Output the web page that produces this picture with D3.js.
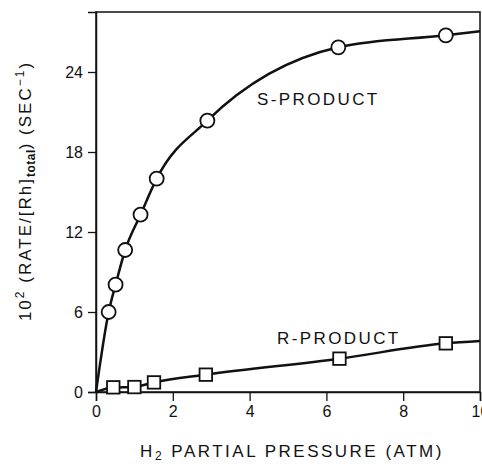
<!DOCTYPE html>
<html>
<head>
    <script src="https://d3js.org/d3.v7.min.js"></script>
    <style>
        body { margin: 0; background: #fff; }
        text { font-family: "Liberation Sans", Arial, sans-serif; fill: #111; }
    </style>
</head>
<body>
<div id="chart"></div>
<script>
    // S-product (circles)
    var sPressure = [0.33, 0.51, 0.76, 1.16, 1.58, 2.90, 6.31, 9.11];
    var sRate = [6.0, 8.05, 10.65, 13.3, 16.0, 20.35, 25.85, 26.75];
    // drawn curve through the points (origin and right edge added)
    var sLineX = [0, 0.33, 0.51, 0.76, 1.16, 1.58, 2.90, 6.31, 9.11, 10];
    var sLineY = [0, 6.0, 8.05, 10.65, 13.3, 16.0, 20.35, 25.85, 26.75, 27.05];

    // R-product (squares)
    var rPressure = [0.45, 1.0, 1.51, 2.86, 6.34, 9.11];
    var rRate = [0.35, 0.37, 0.72, 1.3, 2.5, 3.65];
    var rLineX = [0, 0.45, 1.0, 1.51, 2.86, 6.34, 9.11, 10];
    var rLineY = [0, 0.33, 0.38, 0.72, 1.3, 2.5, 3.65, 3.82];

    var xTicks = [0, 2, 4, 6, 8, 10];
    var yTicks = [0, 6, 12, 18, 24];

    var width = 482, height = 464;
    var margin = { top: 12, right: 2, bottom: 72, left: 96 };

    var svg = d3.select("#chart").append("svg")
        .attr("width", width)
        .attr("height", height);

    var x = d3.scaleLinear().domain([0, 10]).range([margin.left, width - margin.right]);
    var y = d3.scaleLinear().domain([0, 28.5]).range([height - margin.bottom, margin.top]);

    // frame
    svg.append("rect")
        .attr("x", x(0)).attr("y", y(28.5))
        .attr("width", x(10) - x(0)).attr("height", y(0) - y(28.5))
        .attr("fill", "none").attr("stroke", "#111").attr("stroke-width", 1.5);

    // axes
    var xAxis = svg.append("g")
        .attr("transform", "translate(0," + y(0) + ")")
        .call(d3.axisBottom(x).tickValues(xTicks).tickFormat(d3.format("d")).tickSize(9).tickPadding(5));
    var yAxis = svg.append("g")
        .attr("transform", "translate(" + x(0) + ",0)")
        .call(d3.axisLeft(y).tickValues(yTicks).tickFormat(d3.format("d")).tickSize(8).tickPadding(5));

    [xAxis, yAxis].forEach(function (g) {
        g.select(".domain").attr("stroke", "#111").attr("stroke-width", 1.5);
        g.selectAll(".tick line").attr("stroke", "#111").attr("stroke-width", 1.3);
        g.selectAll(".tick text")
            .style("font-family", "'Liberation Sans', Arial, sans-serif")
            .style("font-size", "16px")
            .attr("fill", "#111");
    });

    // curves
    var line = d3.line()
        .x(function (d) { return x(d[0]); })
        .y(function (d) { return y(d[1]); })
        .curve(d3.curveMonotoneX);

    svg.append("path")
        .datum(d3.zip(sLineX, sLineY))
        .attr("d", line)
        .attr("fill", "none").attr("stroke", "#111").attr("stroke-width", 2.5);

    svg.append("path")
        .datum(d3.zip(rLineX, rLineY))
        .attr("d", line)
        .attr("fill", "none").attr("stroke", "#111").attr("stroke-width", 2.5);

    // markers
    svg.selectAll(".circ")
        .data(d3.zip(sPressure, sRate))
        .enter().append("circle")
        .attr("cx", function (d) { return x(d[0]); })
        .attr("cy", function (d) { return y(d[1]); })
        .attr("r", 7)
        .attr("fill", "#fff").attr("stroke", "#111").attr("stroke-width", 1.8);

    var sq = 12.5;
    svg.selectAll(".sq")
        .data(d3.zip(rPressure, rRate))
        .enter().append("rect")
        .attr("x", function (d) { return x(d[0]) - sq / 2; })
        .attr("y", function (d) { return y(d[1]) - sq / 2; })
        .attr("width", sq).attr("height", sq)
        .attr("fill", "#fff").attr("stroke", "#111").attr("stroke-width", 1.8);

    // series labels
    svg.append("text")
        .attr("x", 257).attr("y", 105)
        .style("font-size", "17px").style("letter-spacing", "2.4px")
        .text("S-PRODUCT");
    svg.append("text")
        .attr("x", 277).attr("y", 344)
        .style("font-size", "17px").style("letter-spacing", "2.4px")
        .text("R-PRODUCT");

    // x title
    var xt = svg.append("text")
        .attr("x", 292).attr("y", 457)
        .attr("text-anchor", "middle")
        .style("font-size", "17px").style("letter-spacing", "2.5px");
    xt.append("tspan").text("H");
    xt.append("tspan").attr("dy", 3).style("font-size", "12px").text("2");
    xt.append("tspan").attr("dy", -3).text(" PARTIAL PRESSURE (ATM)");

    // y title
    var yt = svg.append("text")
        .attr("transform", "translate(31," + 191 + ") rotate(-90)")
        .attr("text-anchor", "middle")
        .style("font-size", "17px").style("letter-spacing", "2px");
    yt.append("tspan").text("10");
    yt.append("tspan").attr("dy", -7).style("font-size", "12px").text("2");
    yt.append("tspan").attr("dy", 7).text(" (RATE/[Rh]");
    yt.append("tspan").attr("dy", 4).style("font-size", "12px").style("font-weight", "bold").style("letter-spacing", "0.5px").text("total");
    yt.append("tspan").attr("dy", -4).text(") (SEC");
    yt.append("tspan").attr("dy", -7).style("font-size", "12px").text("\u22121");
    yt.append("tspan").attr("dy", 7).text(")");
</script>
</body>
</html>
